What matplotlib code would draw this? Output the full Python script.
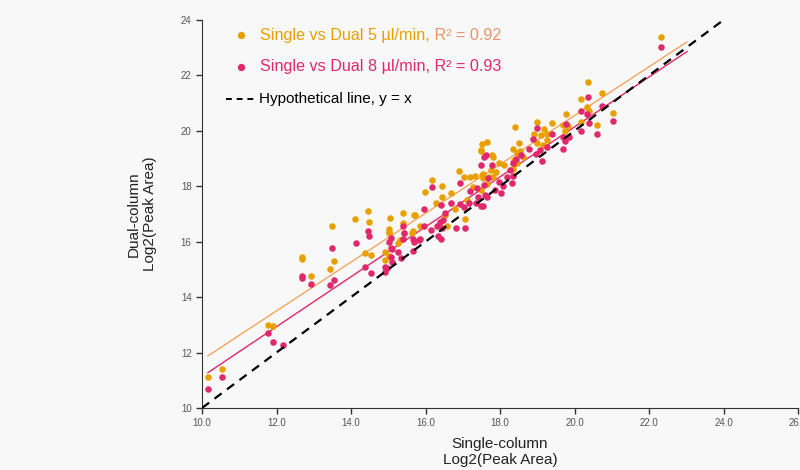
import numpy as np
import matplotlib
matplotlib.use("Agg")
import matplotlib.pyplot as plt

plt.rcParams["font.family"] = ["Liberation Sans", "DejaVu Sans"]

# single-column vs dual-column log2(peak area), 5 ul/min
x5 = [10.17, 10.53, 11.78, 11.91, 12.68, 12.68, 12.92, 13.43, 13.55, 13.49,
      14.12, 14.45, 14.48, 14.37, 14.54, 14.92, 15.01, 15.03, 15.01, 15.06,
      15.01, 14.92, 15.39, 15.40, 15.41, 15.32, 15.27, 15.65, 15.71,
      17.52, 17.48, 16.91, 16.17, 15.98, 16.44, 16.68, 17.04, 17.20, 17.33,
      17.52, 16.28, 16.43, 16.52, 15.69, 15.85, 15.66, 17.06, 16.79, 17.12,
      17.27, 17.49, 17.64, 17.70, 16.59,
      18.39, 19.00, 19.40, 19.18, 18.91, 19.11, 19.25, 19.25, 19.00, 19.16,
      17.66, 17.50, 18.52, 18.36, 18.45, 18.54, 17.79, 17.80, 18.63, 17.97,
      18.11, 18.38, 18.46, 18.36, 17.75, 17.89, 17.54, 17.82, 17.54,
      20.36, 20.74, 20.18, 20.34, 20.40, 19.77, 19.68, 19.83, 20.17, 20.60,
      21.04, 19.74, 22.31]
y5 = [11.11, 11.41, 13.01, 12.96, 15.43, 15.37, 14.75, 15.03, 15.31, 16.55,
      16.81, 17.12, 16.71, 15.60, 15.51, 15.63, 15.49, 16.36, 16.46, 16.87,
      16.33, 15.34, 17.03, 16.67, 16.33, 16.06, 15.97, 16.31, 16.96,
      19.53, 19.29, 18.55, 18.21, 17.80, 18.01, 17.75, 18.33, 18.35, 18.38,
      18.40, 17.41, 17.61, 16.98, 16.98, 16.55, 16.40, 16.83, 17.19, 17.51,
      17.99, 17.87, 18.09, 18.35, 16.55,
      20.13, 20.32, 20.30, 20.08, 19.87, 19.84, 19.87, 19.68, 19.56, 19.48,
      19.58, 19.31, 19.56, 19.36, 19.20, 19.27, 19.14, 19.05, 19.07, 18.83,
      18.76, 18.95, 18.83, 18.64, 18.59, 18.52, 18.45, 18.35, 18.28,
      21.77, 21.36, 21.14, 20.86, 20.73, 20.59, 20.21, 20.18, 20.32, 20.21,
      20.64, 19.99, 23.37]

# 8 ul/min
x8 = [10.17, 10.53, 11.77, 11.91, 12.17, 12.68, 12.68, 12.92, 13.43, 13.55,
      13.48, 14.13, 14.45, 14.48, 14.37, 14.54, 14.92, 14.96, 15.10, 15.03,
      15.07, 14.92, 15.07, 15.10, 15.07, 15.25, 15.33, 15.39, 15.41, 15.40,
      15.66, 15.69, 15.83,
      17.62, 16.17, 16.93, 17.19, 17.37, 17.60, 16.42, 16.69, 16.93, 17.03,
      17.18, 17.36, 17.42, 17.50, 15.96, 16.52, 16.48, 16.39, 16.30, 15.96,
      16.14, 16.43, 16.82, 17.06, 16.34, 16.41, 15.67, 15.85,
      19.00, 19.40, 18.89, 19.25, 19.07, 18.97, 19.13, 18.77, 17.57, 17.79,
      17.50, 18.43, 18.57, 18.36, 18.27, 18.36, 18.18, 18.32, 17.68, 17.97,
      18.09, 17.86, 18.03, 17.57, 17.64, 17.55,
      20.36, 20.74, 20.18, 20.34, 20.38, 19.77, 19.70, 19.84, 19.74, 20.17,
      20.60, 21.04, 19.68, 22.31]
y8 = [10.68, 11.11, 12.72, 12.38, 12.26, 14.69, 14.77, 14.49, 14.45, 14.60,
      15.78, 15.95, 16.38, 16.20, 15.10, 14.86, 14.92, 15.04, 15.25, 16.00,
      15.79, 15.08, 16.14, 15.73, 15.46, 15.61, 15.40, 16.57, 16.31, 16.09,
      15.67, 16.00, 16.06,
      19.12, 17.97, 18.11, 17.84, 17.92, 17.69, 17.32, 17.41, 17.36, 17.25,
      17.39, 17.41, 17.63, 17.27, 17.17, 17.05, 16.79, 16.71, 16.57, 16.55,
      16.43, 16.50, 16.49, 16.49, 16.21, 16.11, 16.11, 16.09,
      20.11, 19.87, 19.70, 19.43, 19.31, 19.17, 18.91, 19.34, 19.07, 18.76,
      18.76, 19.00, 19.14, 18.83, 18.59, 18.38, 18.35, 18.11, 18.30, 18.16,
      18.01, 17.87, 17.77, 18.04, 17.61, 17.29,
      21.22, 20.90, 20.73, 20.61, 20.28, 20.25, 19.79, 19.77, 19.65, 19.99,
      19.89, 20.37, 19.34, 23.03]

# linear fits as shown
fit5 = (0.881, 2.93)
fit8 = (0.901, 2.12)
fit_range = (10.16, 23.02)

c5 = "#E8A000"
c5_line = "#F5A35E"
c5_r2 = "#E8956A"
c8 = "#E0286A"
bg = "#F8F8F8"

fig = plt.figure(figsize=(8, 4.7), dpi=100, facecolor=bg)
ax = fig.add_axes([0.2525, 0.132, 0.745, 0.8255], facecolor=bg)

xx = np.array(fit_range)
ax.plot(xx, fit5[0] * xx + fit5[1], color=c5_line, lw=1.0, zorder=2)
ax.plot(xx, fit8[0] * xx + fit8[1], color=c8, lw=1.0, zorder=2)
ax.plot([10, 26], [10, 26], color="black", lw=1.6, ls=(0, (4, 3)), zorder=4)

ax.scatter(x5, y5, s=22, color=c5, linewidths=0, zorder=3)
ax.scatter(x8, y8, s=22, color=c8, linewidths=0, zorder=3)

ax.set_xlim(10, 26)
ax.set_ylim(10, 24)
ax.set_xticks(np.arange(10, 27, 2))
ax.set_xticklabels([f"{v:.1f}" for v in np.arange(10, 27, 2)])
ax.set_yticks(np.arange(10, 25, 2))
ax.tick_params(labelsize=7, labelcolor="#555555", color="#333333",
               direction="out", length=4, width=1)
for s in ["top", "right"]:
    ax.spines[s].set_visible(False)
for s in ["left", "bottom"]:
    ax.spines[s].set_color("#333333")

ax.set_xlabel("Single-column\nLog2(Peak Area)", fontsize=11, color="#222222",
              labelpad=6, linespacing=1.2)
ax.set_ylabel("Dual-column\nLog2(Peak Area)", fontsize=11, color="#222222",
              labelpad=17, linespacing=1.2)

# legend drawn by hand so the R² part can have its own colour
ax.scatter([0.0654], [0.961], s=18, color=c5, transform=ax.transAxes, clip_on=False)
ax.scatter([0.0654], [0.879], s=18, color=c8, transform=ax.transAxes, clip_on=False)
ax.plot([0.040, 0.094], [0.796, 0.796], color="black", lw=1.4, ls=(0, (3, 2.5)),
        transform=ax.transAxes)
t1 = ax.text(0.0973, 0.961, "Single vs Dual 5 µl/min,", color=c5, fontsize=11.6,
             va="center", transform=ax.transAxes)
ax.annotate(" R² = 0.92", xy=(1, 0), xycoords=t1, va="bottom", color=c5_r2, fontsize=11.6)
ax.text(0.0973, 0.879, "Single vs Dual 8 µl/min, R² = 0.93", color=c8, fontsize=11.6,
        va="center", transform=ax.transAxes)
ax.text(0.0960, 0.796, "Hypothetical line, y = x", color="black", fontsize=11,
        va="center", transform=ax.transAxes)

fig.savefig("out.png", dpi=100, facecolor=bg)
